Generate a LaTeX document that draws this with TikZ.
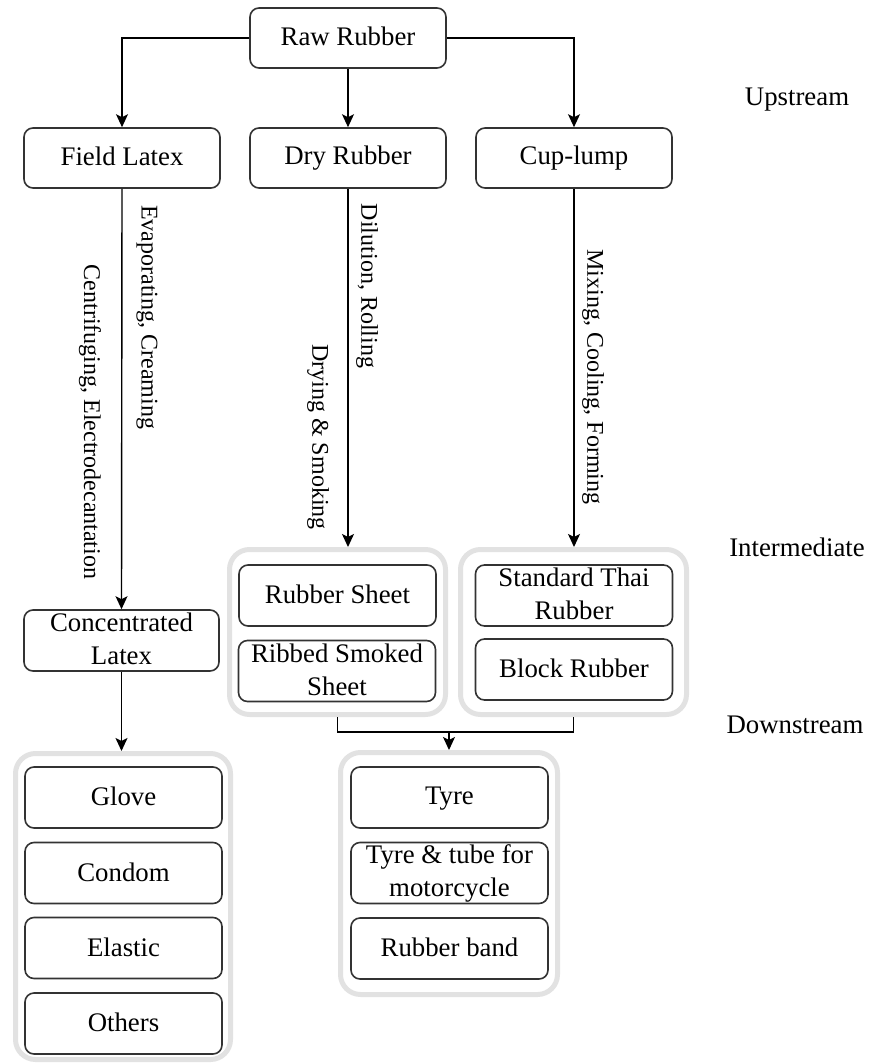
\documentclass[tikz,border=0pt]{standalone}
\usepackage{fontspec}
\setmainfont{Liberation Serif}
\usetikzlibrary{arrows.meta}
\definecolor{boxline}{HTML}{333333}
\definecolor{grpline}{HTML}{E2E2E2}
% struts that keep the text lines optically centred in the boxes
\newcommand\topstrut{\rule{0pt}{19pt}}
\newcommand\botstrut{\rule[-3pt]{0pt}{3pt}}
\tikzset{
  txt/.style={font=\fontsize{26.8pt}{33pt}\selectfont},
  stepbox/.style={txt, draw=boxline, line width=1.6pt, rounded corners=9pt,
    minimum width=196pt, minimum height=60pt, inner sep=0pt, align=center,
    execute at begin node=\topstrut, execute at end node=\botstrut},
  grp/.style={draw=grpline, line width=5pt, rounded corners=20pt, inner sep=0pt},
  flow/.style={line width=1.4pt, -{Stealth[length=13pt,width=12pt,inset=3pt]}},
  link/.style={line width=1.4pt},
  proc/.style={font=\fontsize{24pt}{28pt}\selectfont, rotate=-90, inner sep=0pt},
  stage/.style={txt, inner sep=0pt}
}
\begin{document}
\begin{tikzpicture}[x=1pt,y=-1pt]
\useasboundingbox (0,0) rectangle (871,1064);

% upstream
\node[stepbox] (raw) at (348,38) {Raw Rubber};
\node[stepbox] (field) at (122,158) {Field Latex};
\node[stepbox] (dry) at (348,158) {Dry Rubber};
\node[stepbox] (cup) at (574,158) {Cup-lump};

% intermediate groups
\node[grp, minimum width=216pt, minimum height=165pt] (g1) at (337.5,632) {};
\node[grp, minimum width=226pt, minimum height=165pt] (g2) at (573.5,632) {};
\node[stepbox, minimum width=197pt, minimum height=61pt] (rs) at (337.5,595.5) {Rubber Sheet};
\node[stepbox, minimum width=197pt, minimum height=61pt] (rss) at (337,671) {Ribbed Smoked\\Sheet};
\node[stepbox, minimum width=197pt, minimum height=61pt] (str) at (574,595.5) {Standard Thai\\Rubber};
\node[stepbox, minimum width=197pt, minimum height=61pt] (blk) at (574,669.5) {Block Rubber};
\node[stepbox, minimum width=195pt, minimum height=61pt] (conc) at (121.5,640.5) {Concentrated\\Latex};

% downstream groups
\node[grp, minimum width=217pt, minimum height=242pt] (g3) at (449,873.5) {};
\node[stepbox, minimum width=197pt, minimum height=61pt] (tyre) at (449.5,797.5) {Tyre};
\node[stepbox, minimum width=197pt, minimum height=61pt] (tube) at (449.5,873) {Tyre \& tube for\\motorcycle};
\node[stepbox, minimum width=197pt, minimum height=61pt] (band) at (449.5,948.5) {Rubber band};

\node[grp, minimum width=215pt, minimum height=306pt] (g4) at (123,906.5) {};
\node[stepbox, minimum width=197pt, minimum height=61pt] (glove) at (123.5,797.5) {Glove};
\node[stepbox, minimum width=197pt, minimum height=61pt] (condom) at (123.5,873) {Condom};
\node[stepbox, minimum width=197pt, minimum height=61pt] (elastic) at (123.5,948) {Elastic};
\node[stepbox, minimum width=197pt, minimum height=61pt] (others) at (123.5,1023.5) {Others};

% stage labels
\node[stage] (up) at (797,100) {Upstream};
\node[stage] (mid) at (797,547) {Intermediate};
\node[stage] (down) at (795,725) {Downstream};

% connectors
\draw[flow] (raw.west) -| (field.north);
\draw[flow] (raw.east) -| (cup.north);
\draw[flow] (raw.south) -- (dry.north);
\draw[flow] (field.south) -- (conc.north);
\draw[flow] (dry.south) -- (dry.south |- g1.north);
\draw[flow] (cup.south) -- (cup.south |- g2.north);
\draw[flow] (conc.south) -- (conc.south |- g4.north);
\coordinate (join) at (449,732);
\draw[link] (g1.south) |- (join) -| (g2.south);
\draw[flow] (join) -- (join |- g3.north);

% process labels
\node[proc] (evap) at (147,317) {Evaporating, Creaming};
\node[proc] (centr) at (90,422) {Centrifuging, Electrodecantation};
\node[proc] (dil) at (367,286) {Dilution, Rolling};
\node[proc] (drys) at (318,437) {Drying \& Smoking};
\node[proc] (mix) at (593,377) {Mixing, Cooling, Forming};
\end{tikzpicture}
\end{document}
